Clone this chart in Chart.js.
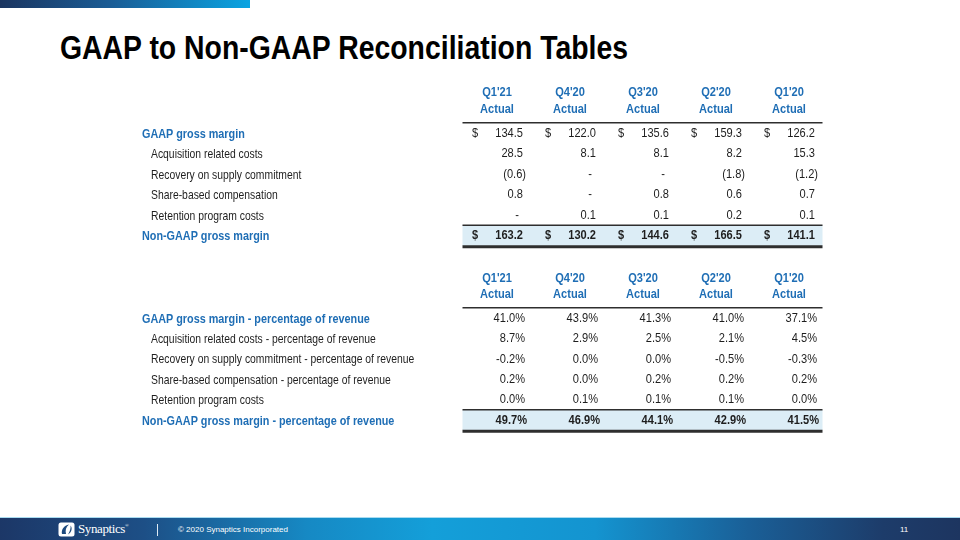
<!DOCTYPE html>
<html>
<head>
<meta charset="utf-8">
<script src="https://cdn.jsdelivr.net/npm/chart.js@4"></script>
<style>
  html, body { margin:0; padding:0; background:#fff; }
  body { width:960px; height:540px; position:relative; overflow:hidden; font-family:'Liberation Sans', Arial, sans-serif; }
  #topbar { position:absolute; left:0; top:0; width:250px; height:8px; background:linear-gradient(90deg,#1b3560 0%,#1a5d96 45%,#0aa4e2 100%); }
  #title { position:absolute; left:60px; top:28px; font-family:'Liberation Sans', Arial, sans-serif; font-weight:bold; font-size:34px; line-height:38px; color:#000; white-space:nowrap; transform-origin:0 0; }
  canvas { position:absolute; left:0; }
  #c1 { top:80px; }
  #c2 { top:262px; }
  #footer { position:absolute; left:0; top:517px; width:960px; height:23px; border-top:1px solid #a9dcf1;
    background:linear-gradient(90deg,#1c3767 0%,#1d4f86 15%,#1689c4 32%,#149fd9 45%,#1494d0 62%,#1a5f97 78%,#1d3c6a 92%,#1d3560 100%); }
  #logo { position:absolute; left:58px; top:4px; }
  #brand { position:absolute; left:78px; top:3px; font-family:'Liberation Serif', serif; font-size:13px; color:#fff; letter-spacing:-0.4px; }
  #brand sup { font-size:5px; vertical-align:top; position:relative; top:2px; }
  #sep { position:absolute; left:157px; top:6px; width:1px; height:12px; background:#dfeaf4; }
  #copy { position:absolute; left:178px; top:7px; font-size:8px; color:#fff; }
  #page { position:absolute; left:900px; top:7px; font-size:8px; color:#fff; }
</style>
</head>
<body>
<div id="topbar"></div>
<div id="title">GAAP to Non-GAAP Reconciliation Tables</div>
<canvas id="c1" width="960" height="175"></canvas>
<canvas id="c2" width="960" height="180"></canvas>
<div id="footer">
  <svg id="logo" width="17" height="15" viewBox="0 0 17 15">
    <rect x="0.5" y="0.5" width="16" height="14" rx="2.5" ry="2.5" fill="#fff"/>
    <path d="M4 12 C3 8 6 3 11 2.5 C8 5 7 8 8 12 Z" fill="#1d4a7e"/>
    <path d="M10 12.5 C12 9 13 6 12.5 3.5 C14.5 6 14 10 10 12.5 Z" fill="#1d4a7e"/>
  </svg>
  <div id="brand">Synaptics<sup>®</sup></div>
  <div id="sep"></div>
  <div id="copy">© 2020 Synaptics Incorporated</div>
  <div id="page">11</div>
</div>
<script>
// ---------- DATA ----------
const columns = ["Q1'21", "Q4'20", "Q3'20", "Q2'20", "Q1'20"];
const columnSubLabel = "Actual";

const marginRows = [
  "GAAP gross margin",
  "Acquisition related costs",
  "Recovery on supply commitment",
  "Share-based compensation",
  "Retention program costs",
  "Non-GAAP gross margin"
];
const gaapGrossMargin      = [134.5, 122.0, 135.6, 159.3, 126.2];
const acquisitionCosts     = [28.5, 8.1, 8.1, 8.2, 15.3];
const supplyRecovery       = [-0.6, 0, 0, -1.8, -1.2];
const shareBasedComp       = [0.8, 0, 0.8, 0.6, 0.7];
const retentionCosts       = [0, 0.1, 0.1, 0.2, 0.1];
const nonGaapGrossMargin   = [163.2, 130.2, 144.6, 166.5, 141.1];

const pctRows = [
  "GAAP gross margin - percentage of revenue",
  "Acquisition related costs - percentage of revenue",
  "Recovery on supply commitment - percentage of revenue",
  "Share-based compensation - percentage of revenue",
  "Retention program costs",
  "Non-GAAP gross margin - percentage of revenue"
];
const gaapMarginPct        = [41.0, 43.9, 41.3, 41.0, 37.1];
const acquisitionPct       = [8.7, 2.9, 2.5, 2.1, 4.5];
const supplyRecoveryPct    = [-0.2, 0.0, 0.0, -0.5, -0.3];
const shareBasedPct        = [0.2, 0.0, 0.2, 0.2, 0.2];
const retentionPct         = [0.0, 0.1, 0.1, 0.1, 0.0];
const nonGaapMarginPct     = [49.7, 46.9, 44.1, 42.9, 41.5];

// ---------- STYLE ----------
const BLUE = '#1f6eb5';
const TEXT = '#1e1e1e';
const FONT = "'Liberation Sans', Arial, sans-serif";

// fit title to the reference width
(function () {
  const t = document.getElementById('title');
  const w = t.getBoundingClientRect().width;
  t.style.transform = 'scaleX(' + (568 / w) + ')';
})();

function narrowText(ctx, text, x, y, align, sx) {
  ctx.save();
  ctx.translate(x, y);
  ctx.scale(sx || 0.82, 1);
  ctx.textAlign = align;
  ctx.fillText(text, 0, 0);
  ctx.restore();
}

const tablePlugin = {
  id: 'tableText',
  beforeDatasetsDraw(chart, args, o) {
    const ctx = chart.ctx, a = chart.chartArea, y = chart.scales.y;
    const half = (y.getPixelForValue(1) - y.getPixelForValue(0)) / 2;
    const yl = y.getPixelForValue(o.rows.length - 1);
    ctx.save();
    ctx.fillStyle = '#dcedf6';
    ctx.fillRect(a.left + 2, yl - half, a.right - a.left - 5, half * 2);
    ctx.strokeStyle = '#2e2e2e';
    ctx.lineWidth = 1.5;
    ctx.beginPath();
    ctx.moveTo(a.left + 2, a.top); ctx.lineTo(a.right - 3, a.top);
    ctx.moveTo(a.left + 2, yl - half); ctx.lineTo(a.right - 3, yl - half);
    ctx.stroke();
    ctx.lineWidth = 3;
    ctx.beginPath();
    ctx.moveTo(a.left + 2, yl + half + 1); ctx.lineTo(a.right - 3, yl + half + 1);
    ctx.stroke();
    ctx.restore();
  },
  afterDatasetsDraw(chart, args, o) {
    const ctx = chart.ctx, a = chart.chartArea, x = chart.scales.x;
    ctx.save();
    ctx.textBaseline = 'middle';
    ctx.fillStyle = BLUE;
    ctx.font = 'bold 13.5px ' + FONT;
    o.columns.forEach((c, j) => {
      const px = x.getPixelForValue(j);
      narrowText(ctx, c, px, a.top - 30, 'center');
      narrowText(ctx, o.sub, px, a.top - 13.5, 'center');
    });
    chart.data.datasets.forEach((ds, i) => {
      const meta = chart.getDatasetMeta(i);
      const head = i === 0, total = i === o.rows.length - 1;
      const ry = meta.data[0].y;
      if (head || total) {
        ctx.fillStyle = BLUE;
        ctx.font = 'bold 13.2px ' + FONT;
        narrowText(ctx, ds.label, 142, ry + 1, 'left', 0.82);
      } else {
        ctx.fillStyle = TEXT;
        ctx.font = '12.8px ' + FONT;
        narrowText(ctx, ds.label, 151, ry + 1, 'left', 0.81);
      }
      ctx.fillStyle = TEXT;
      ctx.font = (total ? 'bold ' : '') + '13.5px ' + FONT;
      meta.data.forEach((el, j) => {
        const v = ds.values[j];
        if (o.kind === 'money') {
          const R = el.x + 26;
          if (o.dollarRows.includes(i)) narrowText(ctx, '$', el.x - 25, el.y, 'left');
          if (v === 0) narrowText(ctx, '-', R - 4, el.y, 'right');
          else if (v < 0) narrowText(ctx, '(' + Math.abs(v).toFixed(1) + ')', R + 3, el.y, 'right');
          else narrowText(ctx, v.toFixed(1), R, el.y, 'right');
        } else {
          narrowText(ctx, v.toFixed(1) + '%', el.x + (total ? 30 : 28), el.y, 'right');
        }
      });
    });
    ctx.restore();
  }
};

function buildTable(canvasId, rows, series, kind, pad, rowsDollar) {
  const datasets = rows.map((r, i) => ({
    label: r,
    values: series[i],
    data: columns.map(c => ({ x: c, y: r })),
    pointRadius: 0,
    pointHoverRadius: 0
  }));
  return new Chart(document.getElementById(canvasId), {
    type: 'scatter',
    data: { datasets },
    plugins: [tablePlugin],
    options: {
      responsive: false,
      animation: false,
      events: [],
      layout: { padding: pad },
      scales: {
        x: { type: 'category', labels: columns, offset: true, display: false },
        y: { type: 'category', labels: rows, offset: true, display: false }
      },
      plugins: {
        legend: { display: false },
        tooltip: { enabled: false },
        tableText: { columns, sub: columnSubLabel, rows, kind, dollarRows: rowsDollar || [] }
      }
    }
  });
}

buildTable('c1', marginRows,
  [gaapGrossMargin, acquisitionCosts, supplyRecovery, shareBasedComp, retentionCosts, nonGaapGrossMargin],
  'money', { top: 42.75, bottom: 9.25, left: 460.5, right: 134.5 }, [0, 5]);

buildTable('c2', pctRows,
  [gaapMarginPct, acquisitionPct, supplyRecoveryPct, shareBasedPct, retentionPct, nonGaapMarginPct],
  'pct', { top: 45.8, bottom: 11.8, left: 460.5, right: 134.5 });
</script>
</body>
</html>
